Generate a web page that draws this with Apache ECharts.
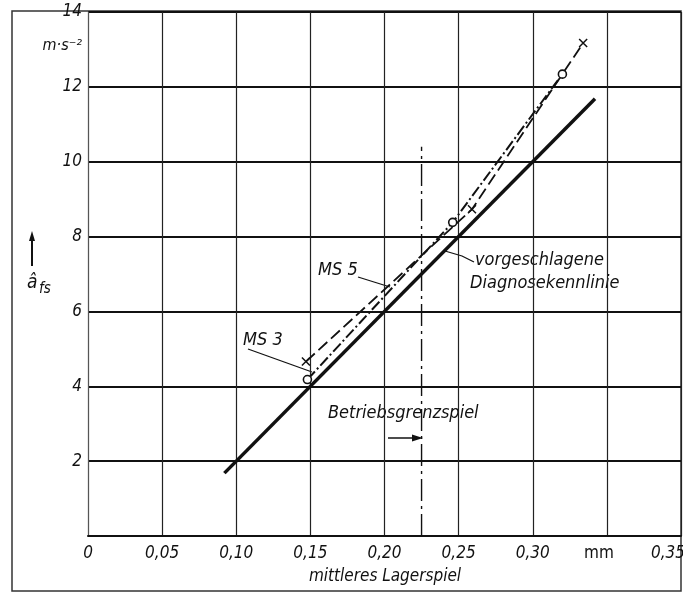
<!DOCTYPE html>
<html>
<head>
<meta charset="utf-8">
<script src="https://cdn.jsdelivr.net/npm/echarts@6/dist/echarts.min.js"></script>
<style>
  html, body { margin: 0; padding: 0; background: #fff; }
  #chart { width: 683px; height: 594px; }
</style>
</head>
<body>
<div id="chart"></div>
<script>
// x: mittleres Lagerspiel (mm), y: â_fs (m·s^-2)
const xTickLabels = ['0', '0,05', '0,10', '0,15', '0,20', '0,25', '0,30', 'mm', '0,35']
const yTickLabels = ['', '2', '4', '6', '8', '10', '12', '14']

// vorgeschlagene Diagnosekennlinie
const kennX = [0.092, 0.342]
const kennY = [1.68, 11.68]
// MS 3 (Kreise, strichpunktiert)
const ms3X = [0.148, 0.246, 0.320]
const ms3Y = [4.18, 8.38, 12.34]
// MS 5 (Kreuze, gestrichelt)
const ms5X = [0.147, 0.259, 0.334]
const ms5Y = [4.66, 8.73, 13.17]
// Betriebsgrenzspiel
const grenzX = [0.225, 0.225]
const grenzY = [0, 10.4]

const FONT = '"DejaVu Sans Condensed", "Liberation Sans Narrow", "DejaVu Sans", sans-serif'

function pairs (xs, ys) {
  let out = []
  for (let i = 0; i < xs.length; i++) {
    out.push([xs[i], ys[i]])
  }
  return out
}

function txt (text, x, y, align, size) {
  return {
    type: 'text',
    style: {
      text: text, x: x, y: y,
      align: align || 'left', textAlign: align || 'left',
      verticalAlign: 'middle', textVerticalAlign: 'middle',
      fontSize: size || 17, fontStyle: 'italic', fontFamily: FONT, fill: '#111'
    }
  }
}

function seg (points, w) {
  return {
    type: 'polyline',
    shape: { points: points },
    style: { stroke: '#111', lineWidth: w || 1.3, fill: null }
  }
}

let myChart = echarts.init(document.getElementById('chart'))
let option = {
  backgroundColor: '#fff',
  animation: false,
  grid: { left: 88, right: 2, top: 12, bottom: 58, outerBoundsMode: 'none' },
  xAxis: {
    type: 'value',
    min: 0,
    max: 0.40,
    interval: 0.05,
    axisLine: { lineStyle: { color: '#111', width: 2 } },
    axisTick: { show: false },
    splitLine: { lineStyle: { color: '#222', width: 1.2 } },
    axisLabel: {
      margin: 9,
      showMaxLabel: true,
      color: '#111',
      fontSize: 17,
      fontStyle: 'italic',
      fontFamily: FONT,
      formatter: function (v) {
        let s = xTickLabels[Math.round(v / 0.05)]
        if (s === 'mm') return '{m|mm}'
        if (s === '0,35') return '{r|0,35}'
        return s
      },
      rich: {
        m: { padding: [0, 16, 0, 0], fontSize: 17, fontStyle: 'normal', fontFamily: FONT, color: '#111' },
        r: { padding: [0, 26, 0, 0], fontSize: 17, fontStyle: 'italic', fontFamily: FONT, color: '#111' }
      }
    }
  },
  yAxis: {
    type: 'value',
    min: 0,
    max: 14,
    interval: 2,
    axisLine: { show: true, lineStyle: { color: '#555', width: 1 } },
    axisTick: { show: false },
    splitLine: { lineStyle: { color: '#111', width: 2 } },
    axisLabel: {
      margin: 6,
      color: '#111',
      fontSize: 17,
      fontStyle: 'italic',
      fontFamily: FONT,
      formatter: function (v) { return yTickLabels[Math.round(v / 2)] }
    }
  },
  series: [
    {
      name: 'Diagnosekennlinie',
      type: 'line',
      data: pairs(kennX, kennY),
      symbol: 'none',
      lineStyle: { color: '#111', width: 3.5 }
    },
    {
      name: 'MS 3',
      type: 'line',
      data: pairs(ms3X, ms3Y),
      symbol: 'circle',
      symbolSize: 8,
      itemStyle: { color: '#fff', borderColor: '#111', borderWidth: 1.6 },
      lineStyle: { color: '#111', width: 2, type: [11, 3, 2, 3] },
      z: 3
    },
    {
      name: 'MS 5',
      type: 'line',
      data: pairs(ms5X, ms5Y),
      symbol: 'path://M0,0L10,10M10,0L0,10',
      symbolSize: 8,
      itemStyle: { color: 'none', borderColor: '#111', borderWidth: 1.5 },
      lineStyle: { color: '#111', width: 1.8, type: [12, 5] },
      z: 3
    },
    {
      name: 'Betriebsgrenzspiel',
      type: 'line',
      data: pairs(grenzX, grenzY),
      symbol: 'none',
      lineStyle: { color: '#111', width: 1.4, type: [22, 5, 3, 5] }
    }
  ],
  graphic: [
    // Rahmen
    { type: 'rect', shape: { x: 12, y: 11, width: 669, height: 580 }, style: { stroke: '#333', lineWidth: 1.5, fill: null } },
    // Einheit y
    txt('m·s⁻²', 82, 46, 'right', 16),
    // Achsenname y
    seg([[32, 266], [32, 238]], 2),
    { type: 'polygon', shape: { points: [[29, 241], [35, 241], [32, 231]] }, style: { fill: '#111' } },
    txt('â', 27, 283, 'left', 19),
    txt('fs', 39, 289, 'left', 15),
    // Achsenname x
    txt('mittleres Lagerspiel', 385, 577, 'center', 17),
    // Beschriftungen
    txt('MS 3', 243, 340, 'left', 18),
    seg([[248, 349], [312, 372]]),
    txt('MS 5', 318, 270, 'left', 18),
    seg([[358, 277], [390, 287]]),
    txt('vorgeschlagene', 475, 260, 'left', 18),
    txt('Diagnosekennlinie', 470, 283, 'left', 18),
    seg([[474, 262], [462, 256], [445, 251]]),
    txt('Betriebsgrenzspiel', 328, 413, 'left', 18),
    seg([[388, 438], [414, 438]], 1.5),
    { type: 'polygon', shape: { points: [[412, 434.5], [412, 441.5], [423, 438]] }, style: { fill: '#111' } }
  ]
}
myChart.setOption(option)
</script>
</body>
</html>
